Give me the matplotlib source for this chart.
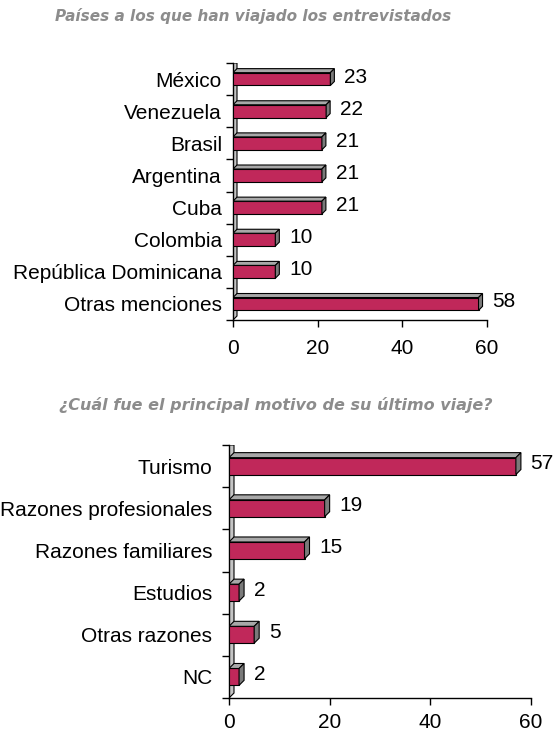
import matplotlib
matplotlib.use("Agg")
import matplotlib.pyplot as plt
from matplotlib.patches import Polygon

plt.rcParams['font.family'] = ['Liberation Sans', 'DejaVu Sans']

# ---- data ----
paises = ["México", "Venezuela", "Brasil", "Argentina", "Cuba", "Colombia",
          "República Dominicana", "Otras menciones"]
paises_vals = [23, 22, 21, 21, 21, 10, 10, 58]

motivos = ["Turismo", "Razones profesionales", "Razones familiares", "Estudios",
           "Otras razones", "NC"]
motivos_vals = [57, 19, 15, 2, 5, 2]

xticks = [0, 20, 40, 60]
title1 = "Países a los que han viajado los entrevistados"
title2 = "¿Cuál fue el principal motivo de su último viaje?"

FRONT = "#C0285A"
TOPC = "#A8A8A8"
SIDEC = "#7A7A7A"
WALL = "#C4C4C4"

W, H = 557, 734
fig = plt.figure(figsize=(W / 100, H / 100), dpi=100)


def panel(rect_px, cats, vals, depth_px, bar_frac, label_pad, ylab_pad, xlab_pad):
    l, r, t, b = rect_px
    ax = fig.add_axes([l / W, 1 - b / H, (r - l) / W, (b - t) / H])
    n = len(cats)
    ax.set_xlim(0, 60)
    ax.set_ylim(-0.5, n - 0.5)
    fig.canvas.draw()
    inv = ax.transData.inverted()
    p0 = inv.transform(ax.transData.transform((0, 0)))
    p1 = inv.transform(ax.transData.transform((0, 0)) + [depth_px, depth_px])
    dx, dy = p1[0] - p0[0], p1[1] - p0[1]

    # back wall
    ax.add_patch(Polygon([(0, -0.5), (dx, -0.5 + dy), (dx, n - 0.5), (0, n - 0.5)],
                         closed=True, facecolor=WALL, edgecolor="black",
                         linewidth=0.8, zorder=1))
    ypos = [n - 1 - i for i in range(n)]
    h = bar_frac
    for y, v in zip(ypos, vals):
        ax.barh(y, v, height=h, color=FRONT, edgecolor="black", linewidth=0.8,
                zorder=3)
        top = y + h / 2
        bot = y - h / 2
        ax.add_patch(Polygon([(0, top), (v, top), (v + dx, top + dy), (dx, top + dy)],
                             closed=True, facecolor=TOPC, edgecolor="black",
                             linewidth=0.8, zorder=3))
        ax.add_patch(Polygon([(v, bot), (v + dx, bot + dy), (v + dx, top + dy), (v, top)],
                             closed=True, facecolor=SIDEC, edgecolor="black",
                             linewidth=0.8, zorder=3))
        ax.annotate(str(v), xy=(v + dx, y + dy / 2), xytext=(label_pad, 0),
                    textcoords="offset points", va="center", ha="left",
                    fontsize=15, zorder=4)

    ax.set_yticks(ypos)
    ax.set_yticklabels(cats, fontsize=15)
    ax.set_yticks([k - 0.5 for k in range(n + 1)], minor=True)
    ax.tick_params(axis="y", which="major", length=0, pad=ylab_pad)
    ax.tick_params(axis="y", which="minor", length=5, width=1, direction="out")
    ax.set_xticks(xticks)
    ax.set_xticklabels([str(x) for x in xticks], fontsize=15)
    ax.tick_params(axis="x", length=5, width=1, direction="out", pad=xlab_pad)
    for s in ("top", "right"):
        ax.spines[s].set_visible(False)
    ax.spines["left"].set_linewidth(1)
    ax.spines["bottom"].set_linewidth(1)
    ax.set_facecolor("none")
    return ax


panel((233, 487, 63, 320), paises, paises_vals, 4, 0.4, 7, 8, 9)
panel((229, 531, 445, 698), motivos, motivos_vals, 5, 0.4, 7, 12, 6)

fig.text(253 / W, 1 - 16 / H, title1, ha="center", va="center", fontsize=11,
         fontweight="bold", style="italic", color="#8C8C8C", family="DejaVu Sans")
fig.text(276 / W, 1 - 405 / H, title2, ha="center", va="center", fontsize=11.5,
         fontweight="bold", style="italic", color="#8C8C8C", family="DejaVu Sans")

fig.savefig("out.png", dpi=100)
